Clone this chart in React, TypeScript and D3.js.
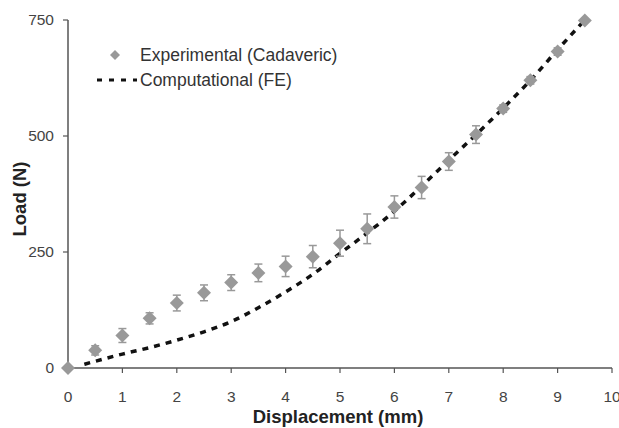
import React from 'react'
import * as d3 from 'd3'

// experimental (cadaveric) data
const expX = [0, 0.5, 1, 1.5, 2, 2.5, 3, 3.5, 4, 4.5, 5, 5.5, 6, 6.5, 7, 7.5, 8, 8.5, 9, 9.5]
const expLoad = [0, 38, 70, 107, 140, 162, 184, 205, 219, 240, 269, 300, 347, 389, 445, 503, 559, 620, 682, 749]
const expErr = [0, 10, 15, 12, 17, 17, 17, 19, 22, 24, 28, 32, 24, 24, 19, 19, 8, 8, 8, 0]

// computational (FE) curve
const feX = [0.3, 1, 1.5, 2, 2.5, 3, 3.5, 4, 4.5, 5, 5.5, 6, 6.5, 7, 7.5, 8, 8.5, 9, 9.5]
const feLoad = [8, 30, 44, 60, 78, 100, 130, 164, 202, 247, 291, 338, 392, 448, 503, 560, 620, 686, 750]

const xTicks = [0, 1, 2, 3, 4, 5, 6, 7, 8, 9, 10]
const yTicks = [0, 250, 500, 750]

const W = 619
const H = 428
const left = 68
const right = 612
const top = 20
const bottom = 368

const App = () => {
  const x = d3.scaleLinear().domain([0, 10]).range([left, right])
  const y = d3.scaleLinear().domain([0, 750]).range([bottom, top])

  const fePts: [number, number][] = feX.map((v, i) => [v, feLoad[i]])
  const line = d3.line<[number, number]>()
    .x(d => x(d[0]))
    .y(d => y(d[1]))
    .curve(d3.curveMonotoneX)

  const diamond = (cx: number, cy: number, r: number) =>
    `M${cx},${cy - r}L${cx + r},${cy}L${cx},${cy + r}L${cx - r},${cy}Z`

  const axisColor = '#555'
  const font = 'Arial, "Liberation Sans", sans-serif'

  return (
    <svg width={W} height={H} style={{ position: 'absolute', left: 0, top: 0, background: '#fff' }}
      fontFamily={font}>
      {/* axes */}
      <line x1={left} x2={left} y1={top} y2={bottom} stroke={axisColor} strokeWidth={1.5} />
      <line x1={left} x2={right} y1={bottom} y2={bottom} stroke={axisColor} strokeWidth={1.5} />
      {yTicks.map(t => (
        <g key={'y' + t}>
          <line x1={left - 5} x2={left} y1={y(t)} y2={y(t)} stroke={axisColor} strokeWidth={1.2} />
          <text x={left - 14} y={y(t)} dy="0.35em" textAnchor="end" fontSize={15.5} fill="#444">{t}</text>
        </g>
      ))}
      {xTicks.map(t => (
        <g key={'x' + t}>
          <line x1={x(t)} x2={x(t)} y1={bottom} y2={bottom + 5} stroke={axisColor} strokeWidth={1.2} />
          <text x={x(t)} y={bottom + 34} textAnchor="middle" fontSize={15.5} fill="#444">{t}</text>
        </g>
      ))}
      <text x={338} y={423} textAnchor="middle" fontSize={18.5} fontWeight="bold" fill="#222">Displacement (mm)</text>
      <text transform={`translate(26,${199}) rotate(-90)`} textAnchor="middle" fontSize={18.5} fontWeight="bold" fill="#222">Load (N)</text>

      {/* FE curve */}
      <path d={line(fePts) || ''} fill="none" stroke="#111" strokeWidth={3.5} strokeDasharray="6 6" />

      {/* experimental points with error bars */}
      {expX.map((v, i) => {
        const cx = x(v)
        const e = expErr[i]
        return (
          <g key={'e' + i}>
            {e > 0 && (
              <g stroke="#999" strokeWidth={1.5}>
                <line x1={cx} x2={cx} y1={y(expLoad[i] - e)} y2={y(expLoad[i] + e)} />
                <line x1={cx - 4} x2={cx + 4} y1={y(expLoad[i] - e)} y2={y(expLoad[i] - e)} />
                <line x1={cx - 4} x2={cx + 4} y1={y(expLoad[i] + e)} y2={y(expLoad[i] + e)} />
              </g>
            )}
            <path d={diamond(cx, y(expLoad[i]), 7)} fill="#999" />
          </g>
        )
      })}

      {/* legend */}
      <path d={diamond(115, 55, 5)} fill="#999" />
      <text x={140} y={55} dy="0.35em" fontSize={17.5} fill="#333">Experimental (Cadaveric)</text>
      <line x1={97} x2={137} y1={80} y2={80} stroke="#111" strokeWidth={3} strokeDasharray="5 7" />
      <text x={140} y={80} dy="0.35em" fontSize={17.5} fill="#333">Computational (FE)</text>
    </svg>
  )
}

export default App
